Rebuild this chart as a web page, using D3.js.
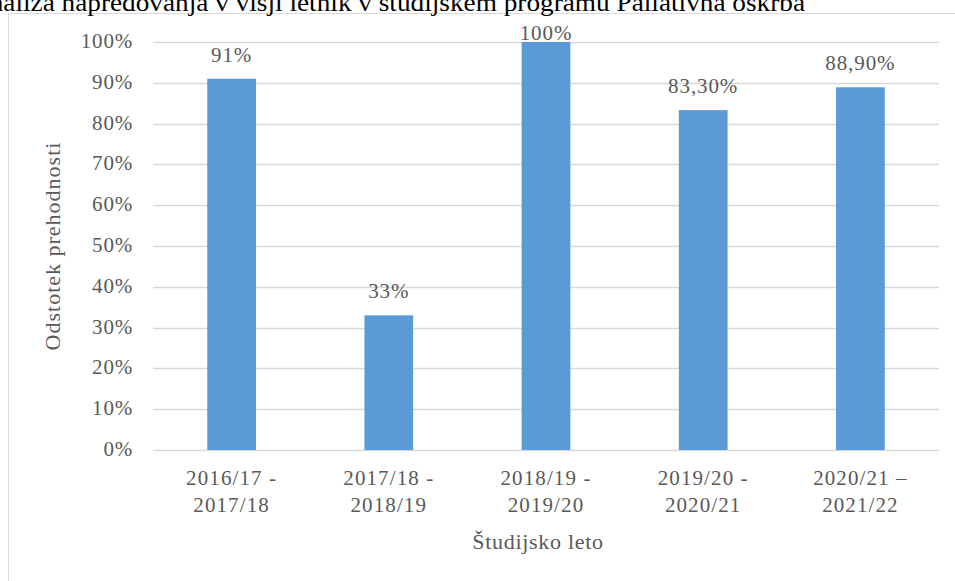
<!DOCTYPE html>
<html><head><meta charset="utf-8">
<script src="https://cdn.jsdelivr.net/npm/d3@7"></script>
<style>
html,body{margin:0;padding:0;background:#fff;overflow:hidden;}
</style></head>
<body><svg id="c" width="955" height="581" font-family="'Liberation Serif', 'DejaVu Serif', serif"></svg>
<script>
const title = "Analiza napredovanja v višji letnik v študijskem programu Paliativna oskrba";
const categories = [["2016/17 -","2017/18"],["2017/18 -","2018/19"],["2018/19 -","2019/20"],["2019/20 -","2020/21"],["2020/21 –","2021/22"]];
const values = [0.91, 0.33, 1.00, 0.833, 0.889];
const valueLabels = ["91%","33%","100%","83,30%","88,90%"];
const yTicks = [0,0.1,0.2,0.3,0.4,0.5,0.6,0.7,0.8,0.9,1.0];
const yTickLabels = ["0%","10%","20%","30%","40%","50%","60%","70%","80%","90%","100%"];
const xTitle = "Študijsko leto";
const yTitle = "Odstotek prehodnosti";

const FONT = "'Liberation Serif', 'DejaVu Serif', serif";
const svg = d3.select("#c");
const plot = {left:153, right:939, top:42, bottom:450};

function txt(sel, size, color, ls){
  return sel.attr("font-family",FONT).attr("font-size",size).attr("fill",color||"#595959")
    .style("letter-spacing",(ls||0)+"px");
}

// frame
svg.append("rect").attr("x",8.5).attr("y",13.5).attr("width",1000).attr("height",1000)
  .attr("fill","#fff").attr("stroke","#d9d9d9").attr("stroke-width",1);

// title (clipped at top/left like reference)
txt(svg.append("text"),26,"#000").attr("x",-30).attr("y",11)
  .attr("textLength",835).attr("lengthAdjust","spacingAndGlyphs").text(title);

const x = d3.scaleBand().domain(d3.range(values.length)).range([plot.left, plot.right])
  .paddingInner(0.69).paddingOuter(0.345);
const y = d3.scaleLinear().domain([0,1]).range([plot.bottom, plot.top]);

// gridlines
svg.append("g").selectAll("line").data(yTicks).join("line")
  .attr("x1",plot.left).attr("x2",plot.right)
  .attr("y1",d=>Math.round(y(d))+0.5).attr("y2",d=>Math.round(y(d))+0.5)
  .attr("stroke","#d9d9d9").attr("stroke-width",1.3);

// y tick labels
txt(svg.append("g").selectAll("text").data(yTicks).join("text"),21,null,0.8)
  .attr("x",133).attr("y",d=>y(d)+6).attr("text-anchor","end")
  .text((d,i)=>yTickLabels[i]);

// bars
svg.append("g").selectAll("rect").data(values).join("rect")
  .attr("x",(d,i)=>x(i)).attr("width",x.bandwidth())
  .attr("y",d=>y(d)).attr("height",d=>plot.bottom-y(d))
  .attr("fill","#5b9bd5");

// value labels
txt(svg.append("g").selectAll("text").data(values).join("text"),21,null,0.9)
  .attr("x",(d,i)=>x(i)+x.bandwidth()/2)
  .attr("y",d=>Math.max(y(d)-17, plot.top-2))
  .attr("text-anchor","middle")
  .text((d,i)=>valueLabels[i]);

// x labels
const xl = txt(svg.append("g").selectAll("text").data(categories).join("text"),21,null,1.1)
  .attr("text-anchor","middle")
  .attr("x",(d,i)=>x(i)+x.bandwidth()/2).attr("y",485);
xl.selectAll("tspan").data(d=>d).join("tspan")
  .attr("x",function(){return d3.select(this.parentNode).attr("x");})
  .attr("dy",(d,i)=>i===0?0:27).text(d=>d);

// axis titles
txt(svg.append("text"),22,null,0.7).attr("x",538).attr("y",549)
  .attr("text-anchor","middle").text(xTitle);
txt(svg.append("text"),22,null,1).attr("transform",`translate(60,${(plot.top+plot.bottom)/2}) rotate(-90)`)
  .attr("text-anchor","middle").text(yTitle);
</script></body></html>
